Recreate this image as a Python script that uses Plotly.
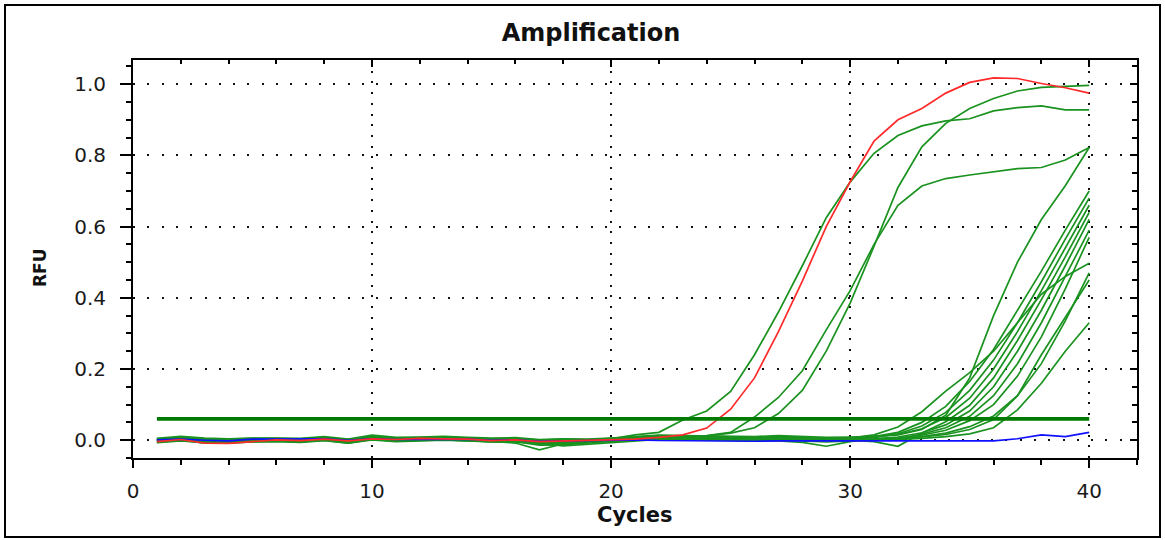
import plotly.graph_objects as go

cycles = list(range(1, 41))
threshold = 0.06

red_well = [-0.004, 0.002, -0.008, -0.009, -0.004, 0.001, -0.001, 0.003, -0.002, 0.004,
            0.002, 0.005, 0.004, 0.003, -0.001, 0.001, -0.004, -0.002, -0.001, 0.000,
            0.003, 0.008, 0.015, 0.034, 0.087, 0.175, 0.305, 0.447, 0.600, 0.726,
            0.840, 0.900, 0.932, 0.975, 1.005, 1.018, 1.016, 1.002, 0.990, 0.975]

blue_well = [0.001, 0.003, 0.000, -0.002, 0.003, 0.004, 0.004, 0.004, 0.000, 0.004,
             0.002, 0.003, 0.004, 0.003, 0.000, 0.001, -0.003, -0.002, -0.002, 0.000,
             0.001, -0.001, -0.002, -0.003, -0.002, -0.003, -0.002, -0.002, -0.004, -0.003,
             -0.003, -0.004, -0.003, -0.003, -0.003, -0.002, 0.004, 0.015, 0.010, 0.022]

green_a = [0.000, 0.009, 0.002, -0.001, 0.001, 0.002, 0.001, 0.008, -0.002, 0.012,
           0.004, 0.005, 0.008, 0.004, 0.002, 0.000, -0.005, 0.001, -0.003, 0.004,
           0.015, 0.022, 0.057, 0.082, 0.137, 0.240, 0.360, 0.490, 0.625, 0.725,
           0.806, 0.856, 0.883, 0.897, 0.903, 0.925, 0.934, 0.939, 0.928, 0.928]

green_b = [-0.005, 0.001, -0.006, -0.005, -0.003, -0.002, -0.004, 0.001, -0.006, 0.003,
           -0.002, 0.000, 0.002, 0.000, -0.003, 0.000, -0.010, -0.008, -0.005, -0.001,
           0.004, 0.006, 0.008, 0.012, 0.020, 0.035, 0.075, 0.140, 0.250, 0.385,
           0.545, 0.710, 0.824, 0.890, 0.932, 0.960, 0.981, 0.991, 0.994, 0.997]

green_c = [0.002, 0.005, 0.001, 0.000, 0.002, 0.003, 0.001, 0.004, 0.000, 0.007,
           0.003, 0.003, 0.005, 0.003, 0.001, 0.003, -0.003, 0.000, -0.002, 0.002,
           0.005, 0.007, 0.010, 0.013, 0.022, 0.065, 0.120, 0.195, 0.310, 0.420,
           0.550, 0.660, 0.714, 0.735, 0.745, 0.754, 0.763, 0.766, 0.787, 0.822]

late_1 = [0.001, 0.008, 0.003, 0.000, 0.002, 0.003, 0.001, 0.007, -0.001, 0.010,
          0.004, 0.005, 0.007, 0.004, 0.002, 0.001, -0.004, 0.002, -0.002, 0.003,
          0.006, 0.008, 0.007, 0.006, 0.005, 0.006, 0.008, 0.007, 0.004, 0.006,
          0.010, 0.015, 0.030, 0.070, 0.175, 0.350, 0.500, 0.620, 0.715, 0.822]

late_2 = [0.001, 0.006, 0.001, -0.001, 0.002, 0.002, 0.000, 0.005, -0.001, 0.008,
          0.003, 0.004, 0.006, 0.003, 0.001, -0.004, -0.014, -0.013, -0.008, -0.001,
          0.009, 0.013, 0.012, 0.011, 0.009, 0.008, 0.011, 0.006, 0.002, 0.004,
          0.010, 0.022, 0.050, 0.095, 0.165, 0.255, 0.365, 0.475, 0.590, 0.700]

late_3 = [-0.007, -0.002, -0.007, -0.008, -0.005, -0.004, -0.006, -0.001, -0.008, 0.001,
          -0.004, -0.002, 0.000, -0.002, -0.005, -0.005, -0.009, -0.016, -0.011, -0.006,
          -0.001, 0.002, 0.001, 0.000, -0.002, -0.003, -0.002, -0.006, -0.017, -0.004,
          0.008, 0.018, 0.040, 0.078, 0.140, 0.225, 0.330, 0.445, 0.565, 0.680]

late_4 = [0.005, 0.011, 0.006, 0.004, 0.006, 0.006, 0.005, 0.010, 0.003, 0.014,
          0.008, 0.009, 0.011, 0.008, 0.006, 0.007, 0.002, 0.004, 0.003, 0.006,
          0.010, 0.014, 0.013, 0.012, 0.011, 0.010, 0.013, 0.011, 0.008, 0.009,
          0.011, 0.016, 0.032, 0.064, 0.118, 0.200, 0.305, 0.420, 0.540, 0.660]

late_5 = [-0.002, 0.005, -0.001, -0.003, 0.000, 0.001, -0.001, 0.005, -0.003, 0.007,
          0.001, 0.003, 0.004, 0.002, -0.001, -0.002, -0.009, -0.006, -0.004, 0.000,
          0.003, 0.005, 0.004, 0.003, 0.002, 0.001, 0.003, 0.001, -0.003, 0.000,
          -0.004, -0.017, 0.020, 0.052, 0.098, 0.175, 0.280, 0.395, 0.515, 0.640]

late_6 = [0.000, 0.007, 0.002, -0.002, 0.001, 0.002, 0.000, 0.006, -0.002, 0.009,
          0.003, 0.004, 0.006, 0.003, 0.001, 0.002, -0.004, 0.000, -0.003, 0.002,
          0.005, 0.006, 0.005, 0.004, 0.003, 0.004, 0.006, 0.004, 0.001, 0.003,
          0.004, 0.009, 0.021, 0.043, 0.082, 0.150, 0.250, 0.365, 0.490, 0.620]

late_7 = [-0.006, 0.000, -0.008, -0.007, -0.004, -0.002, -0.005, 0.000, -0.008, 0.002,
          -0.003, 0.000, 0.001, -0.001, -0.004, -0.001, -0.012, -0.010, -0.007, -0.004,
          0.001, 0.003, 0.002, 0.001, 0.000, -0.001, 0.001, -0.002, -0.005, -0.002,
          0.000, 0.004, 0.017, 0.035, 0.067, 0.125, 0.215, 0.330, 0.460, 0.590]

late_8 = [0.004, 0.007, 0.003, 0.002, 0.004, 0.005, 0.003, 0.006, 0.002, 0.009,
          0.005, 0.005, 0.007, 0.005, 0.003, 0.005, -0.001, 0.002, 0.000, 0.004,
          0.006, 0.009, 0.008, 0.007, 0.006, 0.005, 0.007, 0.005, 0.003, 0.004,
          0.003, 0.006, 0.014, 0.028, 0.055, 0.100, 0.180, 0.290, 0.425, 0.570]

late_9 = [-0.003, 0.004, -0.002, -0.004, -0.001, 0.001, -0.002, 0.004, -0.004, 0.006,
          0.000, 0.002, 0.003, 0.002, -0.002, -0.008, -0.027, -0.010, -0.006, -0.002,
          0.004, 0.008, 0.009, 0.008, 0.006, 0.004, 0.005, 0.003, 0.002, 0.006,
          0.015, 0.037, 0.080, 0.138, 0.190, 0.250, 0.330, 0.410, 0.460, 0.497]

late_10 = [-0.004, 0.001, -0.005, -0.006, -0.003, -0.002, -0.004, 0.001, -0.006, 0.003,
           -0.002, -0.001, 0.001, -0.001, -0.004, -0.003, -0.008, -0.006, -0.005, -0.003,
           0.002, 0.004, 0.003, 0.002, 0.001, 0.000, 0.002, 0.000, -0.002, 0.000,
           0.002, 0.004, 0.010, 0.020, 0.038, 0.068, 0.125, 0.215, 0.335, 0.470]

late_11 = [0.003, 0.009, 0.004, 0.003, 0.005, 0.005, 0.004, 0.008, 0.002, 0.011,
           0.006, 0.007, 0.009, 0.006, 0.004, 0.005, 0.000, 0.003, 0.001, 0.005,
           0.007, 0.010, 0.009, 0.008, 0.007, 0.006, 0.009, 0.007, 0.004, 0.006,
           0.004, 0.006, 0.009, 0.016, 0.030, 0.058, 0.125, 0.240, 0.345, 0.450]

late_12 = [-0.001, 0.004, -0.002, -0.003, 0.000, 0.001, -0.001, 0.004, -0.003, 0.006,
           0.001, 0.002, 0.004, 0.002, -0.001, 0.000, -0.005, -0.003, -0.002, 0.001,
           0.003, 0.005, 0.004, 0.003, 0.002, 0.002, 0.004, 0.002, 0.000, 0.002,
           0.001, 0.002, 0.005, 0.010, 0.018, 0.035, 0.085, 0.160, 0.250, 0.330]

green_wells = [green_a, green_b, green_c, late_1, late_2, late_3, late_4, late_5,
               late_6, late_7, late_8, late_9, late_10, late_11, late_12]

GREEN = "#1a921f"
FONT = "DejaVu Sans, Verdana, sans-serif"

fig = go.Figure()
for w in green_wells:
    fig.add_trace(go.Scatter(x=cycles, y=w, mode="lines",
                             line=dict(color=GREEN, width=1.7), hoverinfo="skip"))
fig.add_trace(go.Scatter(x=cycles, y=blue_well, mode="lines",
                         line=dict(color="#1010ff", width=1.6), hoverinfo="skip"))
fig.add_trace(go.Scatter(x=cycles, y=red_well, mode="lines",
                         line=dict(color="#ff2a2a", width=1.7), hoverinfo="skip"))
fig.add_trace(go.Scatter(x=[cycles[0], cycles[-1]], y=[threshold, threshold], mode="lines",
                         line=dict(color="#007a00", width=3.6), hoverinfo="skip"))
# empty trace so the mirrored (inside) tick axes on top/right are drawn
fig.add_trace(go.Scatter(x=[], y=[], xaxis="x2", yaxis="y2", hoverinfo="skip"))

xr = [0, 42]
yr = [-0.05, 1.068]

fig.update_layout(
    width=1165, height=540,
    margin=dict(l=133, r=28, t=60, b=82),
    plot_bgcolor="white", paper_bgcolor="white",
    showlegend=False,
    title=dict(text="<b>Amplification</b>", x=591 / 1165, xref="container",
               y=1 - 33 / 540, yref="container", xanchor="center", yanchor="middle",
               font=dict(family=FONT, size=24, color="#111")),
    xaxis=dict(range=xr, tick0=0, dtick=10, showgrid=True, gridcolor="#111",
               griddash="2px,8.7px", gridwidth=2, zeroline=False,
               showline=True, linecolor="black", linewidth=2, mirror=True,
               ticks="outside", ticklen=8, tickwidth=1.7, tickcolor="black",
               ticklabelstandoff=6,
               minor=dict(dtick=2, ticks="outside", ticklen=5, tickwidth=1.5,
                          tickcolor="black", showgrid=False),
               tickfont=dict(family=FONT, size=20, color="#1a1a1a")),
    yaxis=dict(range=yr, tick0=0, dtick=0.2, tickformat=".1f", showgrid=True,
               gridcolor="#111", griddash="2px,12.3px", gridwidth=2, zeroline=False,
               showline=True, linecolor="black", linewidth=2, mirror=True,
               ticks="outside", ticklen=11, tickwidth=1.7, tickcolor="black",
               ticklabelstandoff=10,
               minor=dict(dtick=0.05, ticks="outside", ticklen=5, tickwidth=1.5,
                          tickcolor="black", showgrid=False),
               tickfont=dict(family=FONT, size=20, color="#1a1a1a")),
    xaxis2=dict(range=xr, overlaying="x", side="top", anchor="y", tick0=0, dtick=10,
                showgrid=False, zeroline=False, showline=False, showticklabels=False,
                ticks="inside", ticklen=7, tickwidth=1.7, tickcolor="black",
                minor=dict(dtick=2, ticks="inside", ticklen=4, tickwidth=1.5,
                           tickcolor="black", showgrid=False)),
    yaxis2=dict(range=yr, overlaying="y", side="right", anchor="x", tick0=0, dtick=0.2,
                showgrid=False, zeroline=False, showline=False, showticklabels=False,
                ticks="inside", ticklen=7, tickwidth=1.7, tickcolor="black",
                minor=dict(dtick=0.05, ticks="inside", ticklen=5, tickwidth=1.5,
                           tickcolor="black", showgrid=False)),
    annotations=[
        dict(text="<b>RFU</b>", xref="paper", yref="paper", x=(40 - 133) / 1004,
             y=(458 - 268) / 398, showarrow=False, textangle=-90,
             xanchor="center", yanchor="middle",
             font=dict(family=FONT, size=17, color="#111")),
        dict(text="<b>Cycles</b>", xref="paper", yref="paper", x=(635 - 133) / 1004,
             y=(458 - 515) / 398, showarrow=False, xanchor="center", yanchor="middle",
             font=dict(family=FONT, size=21, color="#111")),
    ],
    shapes=[dict(type="rect", xref="paper", yref="paper",
                 x0=(5 - 133) / 1004, x1=(1160 - 133) / 1004,
                 y0=(458 - 537) / 398, y1=(458 - 5) / 398,
                 line=dict(color="black", width=2), layer="below")],
)

fig.write_html("out.html", config={"displayModeBar": False},
               post_script="document.body.style.margin='0px';")
